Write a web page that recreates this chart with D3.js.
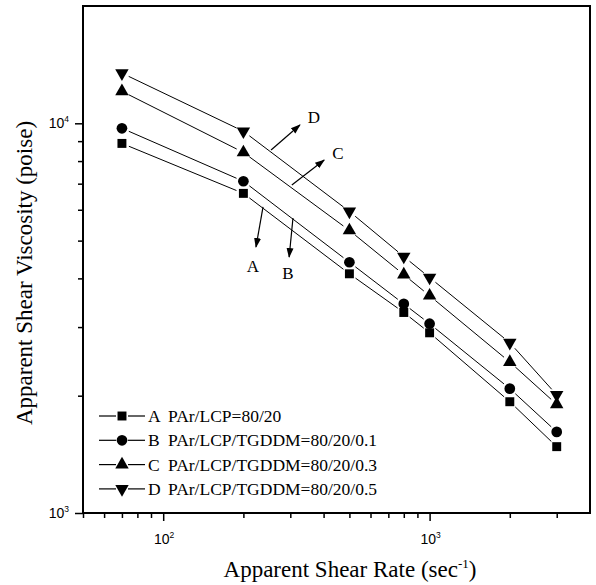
<!DOCTYPE html>
<html>
<head>
<meta charset="utf-8">
<script src="https://cdn.jsdelivr.net/npm/d3@7"></script>
<style>
  body { margin: 0; background: #fff; }
  svg { display: block; }
  .serif { font-family: "Liberation Serif", "Times New Roman", serif; }
  .sans { font-family: "Liberation Sans", Arial, sans-serif; }
</style>
</head>
<body>
<div id="chart"></div>
<script>
// shear rate (sec^-1)
const rates = [70, 200, 500, 800, 1000, 2000, 3000];
// apparent shear viscosity (poise)
const seriesA = [8880, 6610, 4110, 3270, 2900, 1930, 1480];
const seriesB = [9710, 7100, 4400, 3440, 3060, 2085, 1615];
const seriesC = [12080, 8420, 5310, 4090, 3610, 2440, 1900];
const seriesD = [13450, 9540, 5940, 4550, 4020, 2735, 2010];
const seriesNames = ["A", "B", "C", "D"];
const legendLabels = ["PAr/LCP=80/20", "PAr/LCP/TGDDM=80/20/0.1",
                      "PAr/LCP/TGDDM=80/20/0.3", "PAr/LCP/TGDDM=80/20/0.5"];
const xMajor = [100, 1000];
const yMajor = [1000, 10000];
// annotation arrows, in data units: [x0, y0, x1, y1, labelX, labelY, text]
const arrows = [
  [237, 6100, 223, 4816, 217, 4300, "A"],
  [307, 5715, 297, 4538, 294, 4130, "B"],
  [304, 6946, 402, 8051, 453, 8391, "C"],
  [254, 8543, 326, 9900, 368, 10380, "D"]
];

const W = 596, H = 585;
const m = { left: 83, right: 590, top: 6, bottom: 513 };

const svg = d3.select("#chart").append("svg")
  .attr("width", W).attr("height", H);

const x = d3.scaleLog().domain([50, 4000]).range([m.left, m.right]);
const y = d3.scaleLog().domain([1000, 20000]).range([m.bottom, m.top]);

svg.append("defs").append("marker")
  .attr("id", "head")
  .attr("viewBox", "0 0 10 10")
  .attr("refX", 9).attr("refY", 5)
  .attr("markerWidth", 10).attr("markerHeight", 10)
  .attr("markerUnits", "userSpaceOnUse")
  .attr("orient", "auto")
  .append("path").attr("d", "M0,1.5 L10,5 L0,8.5 Z").attr("fill", "#000");

// frame
svg.append("rect")
  .attr("x", m.left).attr("y", m.top)
  .attr("width", m.right - m.left).attr("height", m.bottom - m.top)
  .attr("fill", "none").attr("stroke", "#000").attr("stroke-width", 2);

// axes: ticks only, labels written by hand for superscripts
const xAxis = d3.axisBottom(x)
  .tickValues(d3.range(5, 10).map(d => d * 10)
    .concat(d3.range(1, 10).map(d => d * 100))
    .concat([1000, 2000, 3000]))
  .tickFormat("")
  .tickSizeOuter(0)
  .tickSize(5);
const gx = svg.append("g").attr("transform", `translate(0,${m.bottom})`).call(xAxis);
gx.select(".domain").remove();
gx.selectAll(".tick line")
  .attr("stroke-width", 1.5)
  .attr("y2", d => xMajor.includes(d) ? 8 : 5);

const yAxis = d3.axisLeft(y)
  .tickValues(d3.range(1, 10).map(d => d * 1000).concat([10000]))
  .tickFormat("")
  .tickSizeOuter(0)
  .tickSize(5);
const gy = svg.append("g").attr("transform", `translate(${m.left},0)`).call(yAxis);
gy.select(".domain").remove();
gy.selectAll(".tick line")
  .attr("stroke-width", 1.5)
  .attr("x2", d => yMajor.includes(d) ? -8 : -5);

function powLabel(g, v) {
  const e = Math.round(Math.log10(v));
  g.append("tspan").text("10");
  g.append("tspan").text(e).attr("font-size", 8.5).attr("dy", -6);
}

xMajor.forEach(v => {
  const t = svg.append("text").attr("class", "sans")
    .attr("x", x(v) + 1).attr("y", 544)
    .attr("text-anchor", "middle").attr("font-size", 14);
  powLabel(t, v);
});
yMajor.forEach(v => {
  const t = svg.append("text").attr("class", "sans")
    .attr("x", 69).attr("y", y(v) + 5)
    .attr("text-anchor", "end").attr("font-size", 14);
  powLabel(t, v);
});

// axis titles
const xt = svg.append("text").attr("class", "serif")
  .attr("x", 350).attr("y", 577)
  .attr("text-anchor", "middle").attr("font-size", 23);
xt.append("tspan").text("Apparent Shear Rate (sec");
xt.append("tspan").text("-1").attr("font-size", 13).attr("dy", -9);
xt.append("tspan").text(")").attr("dy", 9);

svg.append("text").attr("class", "serif")
  .attr("transform", "translate(32,273) rotate(-90)")
  .attr("text-anchor", "middle").attr("font-size", 23)
  .text("Apparent Shear Viscosity (poise)");

// markers
const symbols = [
  { type: d3.symbolSquare, size: 80, rot: 0 },
  { type: d3.symbolCircle, size: 90, rot: 0 },
  { type: d3.symbolTriangle, size: 78, rot: 0 },
  { type: d3.symbolTriangle, size: 78, rot: 180 }
];

function drawMarker(g, i, cx, cy) {
  const s = symbols[i];
  g.append("path")
    .attr("d", d3.symbol().type(s.type).size(s.size)())
    .attr("transform", `translate(${cx},${cy}) rotate(${s.rot})`)
    .attr("fill", "#000");
}

// line segments with small gaps at the markers
function gapLine(g, x0, y0, x1, y1, gap) {
  const dx = x1 - x0, dy = y1 - y0, L = Math.hypot(dx, dy);
  const ux = dx / L, uy = dy / L;
  g.append("line")
    .attr("x1", x0 + ux * gap).attr("y1", y0 + uy * gap)
    .attr("x2", x1 - ux * gap).attr("y2", y1 - uy * gap)
    .attr("stroke", "#000").attr("stroke-width", 1);
}

const allSeries = [seriesA, seriesB, seriesC, seriesD];
allSeries.forEach((vals, i) => {
  const g = svg.append("g");
  const pts = rates.map((r, k) => [x(r), y(vals[k])]);
  for (let k = 0; k < pts.length - 1; k++) {
    gapLine(g, pts[k][0], pts[k][1], pts[k + 1][0], pts[k + 1][1], 7.5);
  }
  pts.forEach(p => drawMarker(g, i, p[0], p[1]));
});

// arrows with labels
arrows.forEach(a => {
  svg.append("line")
    .attr("x1", x(a[0])).attr("y1", y(a[1]))
    .attr("x2", x(a[2])).attr("y2", y(a[3]))
    .attr("stroke", "#000").attr("stroke-width", 1.2)
    .attr("marker-end", "url(#head)");
  svg.append("text").attr("class", "serif")
    .attr("x", x(a[4])).attr("y", y(a[5]) + 6)
    .attr("text-anchor", "middle").attr("font-size", 17)
    .text(a[6]);
});

// legend
const legY0 = 416, legStep = 24.3;
seriesNames.forEach((n, i) => {
  const ly = legY0 + i * legStep;
  const g = svg.append("g");
  g.append("line").attr("x1", 99).attr("x2", 116).attr("y1", ly).attr("y2", ly)
    .attr("stroke", "#000").attr("stroke-width", 1.2);
  g.append("line").attr("x1", 128).attr("x2", 145).attr("y1", ly).attr("y2", ly)
    .attr("stroke", "#000").attr("stroke-width", 1.2);
  drawMarker(g, i, 122, ly);
  g.append("text").attr("class", "serif")
    .attr("x", 148).attr("y", ly + 6).attr("font-size", 17.5).text(n);
  g.append("text").attr("class", "serif")
    .attr("x", 168).attr("y", ly + 6).attr("font-size", 17.5).text(legendLabels[i]);
});
</script>
</body>
</html>
